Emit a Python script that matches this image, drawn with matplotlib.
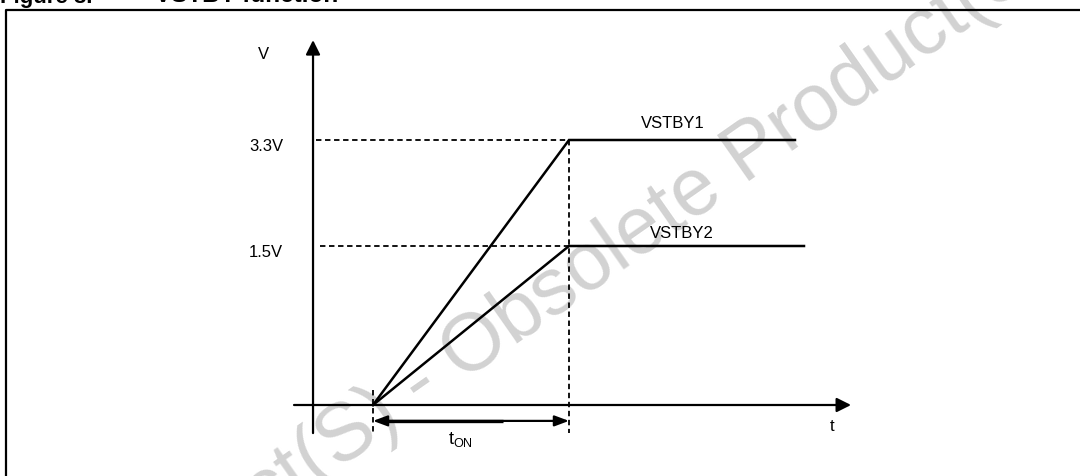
import matplotlib
matplotlib.use("Agg")
import matplotlib.pyplot as plt
from matplotlib.lines import Line2D

plt.rcParams['font.family'] = ['Liberation Sans', 'DejaVu Sans']
plt.rcParams['mathtext.fontset'] = 'custom'
plt.rcParams['mathtext.rm'] = 'Liberation Sans'
plt.rcParams['mathtext.default'] = 'regular'

# diagram data (x = time in units of t_ON, y = drawn height, 3.3V rail = 1)
t_start = 0.0
t_on = 1.0
rail_names = ['VSTBY1', 'VSTBY2']
rail_labels = ['3.3V', '1.5V']
rail_heights = [1.0, 0.6]
rail_ends = [2.153, 2.199]
rail_name_pos = [(1.53, 1.064), (1.577, 0.649)]
dash_left = [-0.29, -0.27]

# axes of the sketch
v_axis_t = -0.306
v_axis_range = [-0.106, 1.377]
t_axis_range = [-0.403, 2.439]
marker_bottom = -0.106
start_marker_top = 0.057
ton_arrow_h = -0.06
ton_thick_end = 0.663

W, H = 1080, 476
fig = plt.figure(figsize=(W / 100, H / 100), dpi=100)
ax = fig.add_axes([0, 0, 1, 1])
ax.set_xlim(-373 / 196, (W - 373) / 196)
ax.set_ylim((405 - H) / 265, 405 / 265)
ax.axis('off')


def px(x, y):
    return x / W, 1 - y / H


# watermark (behind everything in the axes)
wm_kw = dict(fontsize=58, color='#d2d2d2', rotation=35, rotation_mode='anchor',
             va='baseline', zorder=0, transform=fig.transFigure)
ax.text(*px(462, 382), 'Obsolete Product(S)', ha='left', **wm_kw)
ax.text(*px(462 - 22.4 * 0.819, 382 + 22.4 * 0.574), 'Product(S) -', ha='right', **wm_kw)

# page frame and clipped caption
fig.add_artist(Line2D([6 / W, 6 / W, 1.0], [0.0, 1 - 10 / H, 1 - 10 / H],
                      transform=fig.transFigure, color='black', lw=1.6))
fig.text(*px(0, 2.5), 'Figure 8.', fontsize=16, fontweight='bold', va='baseline')
fig.text(*px(155, 2.5), 'VSTBY function', fontsize=17.5, fontweight='bold', va='baseline')

arrow_kw = dict(arrowstyle='-|>,head_length=0.86,head_width=0.43', color='black',
                lw=1.6, shrinkA=0, shrinkB=0, mutation_scale=10)
# V axis
ax.annotate('', xy=(v_axis_t, v_axis_range[1]), xytext=(v_axis_t, v_axis_range[0]),
            arrowprops=arrow_kw)
# t axis
ax.annotate('', xy=(t_axis_range[1], 0), xytext=(t_axis_range[0], 0),
            arrowprops=arrow_kw)
ax.text(-0.561, 1.321, 'V', fontsize=12, ha='center', va='center')
ax.text(2.342, -0.083, 't', fontsize=12, ha='center', va='center')

dash = (0, (3, 2))
# rails
for name, lab, h, te, (nx, ny), dl in zip(rail_names, rail_labels, rail_heights,
                                            rail_ends, rail_name_pos, dash_left):
    ax.plot([t_start, t_on, te], [0, h, h], color='black', lw=1.8,
            solid_joinstyle='miter', zorder=3)
    ax.plot([dl, t_on], [h, h], color='black', lw=1.3, ls=dash, zorder=2)
    ax.text(-0.546, h - 0.025, lab, fontsize=12, ha='center', va='center')
    ax.text(nx, ny, name, fontsize=12, ha='center', va='center')

# t_ON markers
ax.plot([t_on, t_on], [rail_heights[0], marker_bottom], color='black', lw=1.3,
        ls=dash, zorder=2)
ax.plot([t_start, t_start], [start_marker_top, marker_bottom], color='black', lw=1.3,
        ls=dash, zorder=2)
ax.annotate('', xy=(t_on, ton_arrow_h), xytext=(t_start, ton_arrow_h),
            arrowprops=dict(arrowstyle='<|-|>,head_length=0.86,head_width=0.32',
                            color='black', lw=1.6, shrinkA=0, shrinkB=0,
                            mutation_scale=10))
ax.plot([t_start + 0.05, ton_thick_end], [ton_arrow_h, ton_arrow_h], color='black',
        lw=2.4, solid_capstyle='butt')
ax.text(0.444, -0.132, r'$t_{ON}$', fontsize=13, ha='center', va='center')

fig.savefig('out.png', dpi=100)
